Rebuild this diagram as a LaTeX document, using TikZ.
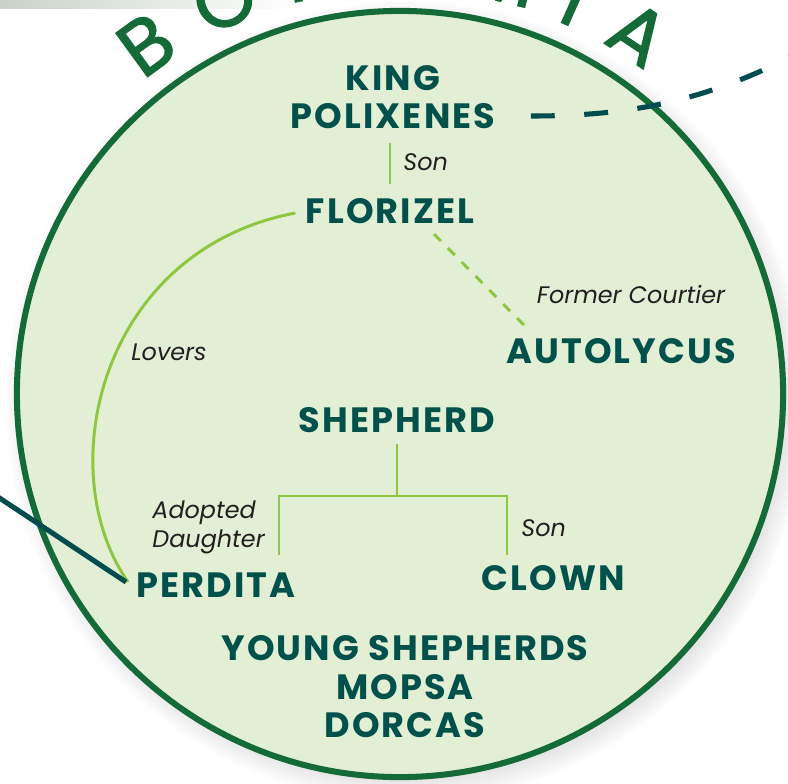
\documentclass[tikz,border=0pt]{standalone}
\usepackage{fontspec}
\setmainfont{Poppins}
\newfontfamily\castfont[LetterSpace=6]{Poppins}
\newfontfamily\realmfont[FakeBold=1.6]{Poppins}
\usetikzlibrary{backgrounds, shadows}

\definecolor{deepteal}{RGB}{0,80,75}
\definecolor{leafgreen}{RGB}{141,198,63}
\definecolor{ringgreen}{RGB}{20,107,55}
\definecolor{meadow}{RGB}{227,239,213}
\definecolor{inkline}{RGB}{0,76,79}
\definecolor{tagink}{RGB}{35,31,32}
\definecolor{bargrey}{RGB}{200,210,200}

\begin{document}
\begin{tikzpicture}[
            x=0.025cm, y=-0.025cm,
            background rectangle/.style={fill=white},
            show background rectangle,
            inner frame sep=0pt,
            semithick
        ]

        \tikzstyle{person}=[
            inner sep=0pt,
            text=deepteal,
            font=\castfont\fontsize{25}{30}\selectfont\bfseries
        ]
        \tikzstyle{relation}=[
            inner sep=0pt,
            text=tagink,
            font=\fontsize{17}{20.6}\selectfont\itshape
        ]
        \tikzstyle{bond}=[draw=leafgreen, line width=2.1pt]
        \tikzstyle{darkline}=[draw=inkline, line width=3.6pt]

        \useasboundingbox (0,0) rectangle (788,783);
        \clip (0,0) rectangle (788,783);

        \shade[left color=bargrey, right color=white] (0,0) rectangle (300,8);

        % the realm
        \node[circle, draw=ringgreen, fill=meadow, line width=4.3pt,
              minimum size=19.15cm,
              circular drop shadow={shadow scale=1.045, shadow xshift=4pt,
                                    shadow yshift=-5pt, opacity=0.5}]
            (realm) at (400,394) {};

        \foreach \l/\a in {B/126, O/114, H/102, E/89, M/76, I/66, A/56.5}
            \node[text=ringgreen, font=\realmfont\fontsize{55}{55}\selectfont, rotate=\a-90]
                at ({400+432*cos(\a)}, {394-432*sin(\a)}) {\l};

        \node[person] (king) at (393,78) {KING};
        \node[person] (polixenes) at (393,116) {POLIXENES};
        \node[person] (florizel) at (390,211) {FLORIZEL};
        \node[person] (autolycus) at (621,351) {AUTOLYCUS};
        \node[person] (shepherd) at (397,420) {SHEPHERD};
        \node[person] (perdita) at (216,585) {PERDITA};
        \node[person] (clown) at (553,578) {CLOWN};
        \node[person] (young) at (405,648) {YOUNG SHEPHERDS};
        \node[person] (mopsa) at (405,687) {MOPSA};
        \node[person] (dorcas) at (405,725) {DORCAS};

        \coordinate (fork) at (397,496);
        \coordinate (dl) at (279,555);
        \coordinate (dr) at (507,555);
        \coordinate (westedge) at (-5,495);
        \coordinate (eastedge) at (800,52);

        \node[relation, anchor=base west] (son1) at (403,170) {Son};
        \node[relation, anchor=base] (courtier) at (631,303) {Former Courtier};
        \node[relation, anchor=base] (lovers) at (169,360) {Lovers};
        \node[relation, anchor=base west, align=left] (adopted) at (152,547) {Adopted\\Daughter};
        \node[relation, anchor=base west] (son2) at (521,536) {Son};

        \draw[bond, shorten <=10pt, shorten >=10pt]
            (florizel.north |- polixenes.south) -- (florizel.north);
        \draw[bond, dash pattern=on 7pt off 7pt]
            ([shift={(44,10)}]florizel.south) -- ([shift={(20,-11)}]autolycus.north west);
        \draw[bond] ([shift={(-10,2)}]florizel.west)
            .. controls (100,250) and (50,470) .. ([shift={(-8,-3)}]perdita.west);
        \draw[bond, shorten <=8pt] (shepherd.south) -- (fork);
        \draw[bond] (dl) |- (fork) -| (dr);

        \draw[darkline] (westedge) -- ([shift={(-10,-3)}]perdita.west);
        \draw[darkline, dash pattern=on 17pt off 21pt] ([shift={(35,0)}]polixenes.east)
            .. controls (620,116) and (700,105) .. (eastedge);

    \end{tikzpicture}
\end{document}
